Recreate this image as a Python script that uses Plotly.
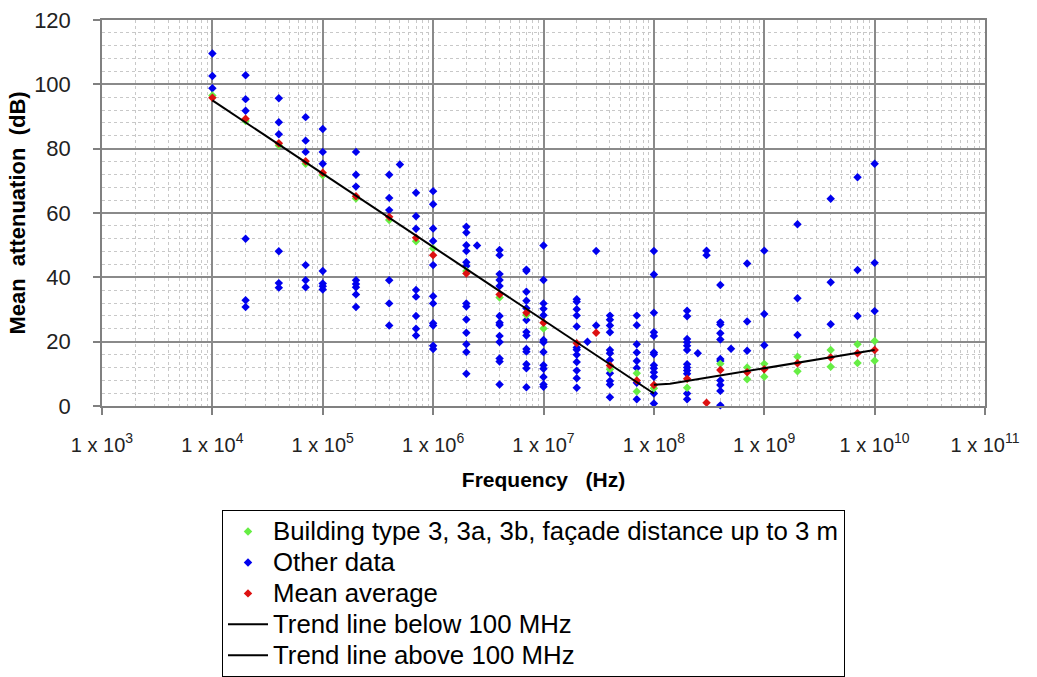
import plotly.graph_objects as go

# ---------------- data ----------------
# "Other data" (blue) : column frequencies and the values measured in each column
other_freq = [1e4, 2e4, 4e4, 7e4, 1e5, 2e5, 4e5, 5e5, 7e5, 1e6, 2e6, 2.5e6, 4e6, 7e6,
              1e7, 2e7, 2.5e7, 3e7, 4e7, 7e7, 1e8, 2e8, 2.5e8, 3e8, 4e8, 5e8, 7e8,
              1e9, 2e9, 4e9, 7e9, 1e10]
other_db = [
    [109.6, 102.6, 98.8],
    [102.8, 95.4, 91.8, 52.0, 32.9, 30.8],
    [95.7, 88.2, 84.5, 48.1, 38.2, 36.8],
    [89.8, 82.5, 79.0, 43.8, 39.1, 36.9],
    [86.1, 79.0, 75.3, 42.0, 38.1, 37.2, 36.2],
    [79.0, 71.9, 68.2, 39.1, 37.9, 36.9, 34.7, 30.8],
    [71.9, 64.7, 60.9, 39.1, 31.9, 25.0],
    [75.1],
    [66.3, 59.0, 55.1, 36.1, 34.0, 28.0, 24.0, 21.9],
    [66.8, 62.7, 55.2, 51.3, 43.8, 34.1, 31.9, 25.7, 25.0, 18.7, 17.7],
    [55.7, 53.9, 50.0, 48.2, 44.7, 43.5, 31.9, 30.9, 26.9, 22.8, 19.2, 16.8, 10.0],
    [49.9],
    [48.5, 46.9, 41.0, 39.2, 37.3, 28.0, 25.9, 25.2, 21.8, 19.9, 14.8, 13.8, 6.7],
    [42.4, 42.0, 35.5, 32.7, 30.4, 26.7, 23.0, 21.9, 17.7, 16.9, 13.0, 11.7, 5.8],
    [49.9, 39.2, 31.9, 30.2, 28.2, 20.5, 19.8, 16.8, 12.7, 11.6, 9.0, 6.7, 6.0],
    [33.2, 32.4, 30.1, 28.1, 24.7, 18.2, 17.5, 15.9, 13.7, 11.0, 8.6, 5.7],
    [20.0],
    [48.2, 25.0],
    [28.1, 26.8, 25.0, 22.9, 17.4, 16.4, 14.3, 10.2, 7.8, 6.7, 2.7],
    [28.1, 25.1, 19.2, 16.6, 14.0, 11.8, 7.2, 2.1],
    [48.2, 40.9, 29.0, 22.9, 21.8, 16.6, 16.1, 12.7, 11.7, 10.5, 9.1, 3.9, 0.8],
    [29.6, 27.9, 20.8, 19.8, 18.7, 17.4, 13.0, 12.0, 11.0, 10.0, 3.9, 2.1],
    [16.4],
    [48.3, 46.9],
    [37.6, 26.0, 25.3, 22.6, 20.7, 14.6, 14.0, 7.9, 6.5, 4.7, 0.2],
    [17.8],
    [44.3, 26.3, 17.2],
    [48.3, 28.6, 18.9],
    [56.5, 33.5, 22.1],
    [64.4, 38.5, 25.4],
    [71.1, 42.3, 28.0],
    [75.3, 44.5, 29.5],
]

# Building type 3, 3a, 3b, facade distance up to 3 m (green)
building_freq = [1e4, 2e4, 4e4, 7e4, 1e5, 2e5, 4e5, 7e5, 1e6, 2e6, 4e6, 7e6, 1e7, 4e7,
                 7e7, 7e7, 1e8, 2e8, 4e8, 7e8, 7e8, 1e9, 1e9, 2e9, 2e9, 4e9, 4e9,
                 7e9, 7e9, 1e10, 1e10]
building_db = [96.5, 88.6, 81.0, 75.3, 71.7, 64.5, 57.8, 51.2, 49.0, 42.0, 33.7, 28.3, 24.1, 11.4,
               10.2, 4.5, 5.5, 5.7, 13.1, 12.0, 8.3, 13.1, 9.1, 15.3, 10.8, 17.4, 12.2,
               19.2, 13.4, 20.2, 14.1]

# Mean average (red)
mean_freq = [1e4, 2e4, 4e4, 7e4, 1e5, 2e5, 4e5, 7e5, 1e6, 2e6, 4e6, 7e6, 1e7, 2e7, 3e7,
             4e7, 7e7, 1e8, 2e8, 3e8, 4e8, 7e8, 1e9, 2e9, 4e9, 7e9, 1e10]
mean_db = [95.8, 89.3, 81.7, 76.1, 72.5, 65.2, 58.8, 52.3, 46.9, 41.2, 34.7, 29.0, 25.9, 19.5, 22.8,
           12.6, 7.9, 6.5, 8.5, 1.0, 11.2, 10.5, 11.4, 13.3, 15.1, 16.4, 17.4]

# Trend lines
trend_below_freq = [1e4, 1e8]
trend_below_db = [95.0, 3.9]
trend_above_freq = [1e8, 1.4e8, 1e10]
trend_above_db = [6.6, 6.9, 17.4]

# Axis tick labels
x_tick_vals = [1e3, 1e4, 1e5, 1e6, 1e7, 1e8, 1e9, 1e10, 1e11]
x_tick_text = ["1 x 10<sup>%d</sup>" % e for e in range(3, 12)]
y_tick_vals = [0, 20, 40, 60, 80, 100, 120]

# ---------------- figure ----------------
FONT = "Liberation Sans, Arial, sans-serif"
blue_x, blue_y = [], []
for f, vals in zip(other_freq, other_db):
    blue_x += [f] * len(vals)
    blue_y += vals


def leg(txt):
    return '<span style="font-size:25.8px">%s</span>' % txt


mk = dict(symbol="diamond", size=6.5)
fig = go.Figure()
fig.add_trace(go.Scatter(x=blue_x, y=blue_y, mode="markers", name=leg("Other data"),
                         marker=dict(color="#0000ee", **mk), legendrank=2, cliponaxis=False))
fig.add_trace(go.Scatter(x=building_freq, y=building_db, mode="markers",
                         name=leg("Building type 3, 3a, 3b, façade distance up to 3 m"),
                         marker=dict(color="#66ee44", **mk), legendrank=1, cliponaxis=False))
fig.add_trace(go.Scatter(x=mean_freq, y=mean_db, mode="markers", name=leg("Mean average"),
                         marker=dict(color="#dd1111", **mk), legendrank=3, cliponaxis=False))
fig.add_trace(go.Scatter(x=trend_below_freq, y=trend_below_db, mode="lines",
                         name=leg("Trend line below 100 MHz"),
                         line=dict(color="black", width=2), legendrank=4))
fig.add_trace(go.Scatter(x=trend_above_freq, y=trend_above_db, mode="lines",
                         name=leg("Trend line above 100 MHz"),
                         line=dict(color="black", width=2), legendrank=5))

W, H = 1037, 677
ml, mr, mt, mb = 102, 52, 20, 271
fig.update_layout(
    width=W, height=H,
    margin=dict(l=ml, r=mr, t=mt, b=mb, pad=0, autoexpand=False),
    paper_bgcolor="white", plot_bgcolor="white",
    font=dict(family=FONT, color="#222222"),
    showlegend=True,
    legend=dict(
        x=(222 - ml) / (W - ml - mr), y=(H - mb - 510) / (H - mt - mb),
        xanchor="left", yanchor="top",
        bgcolor="white", bordercolor="black", borderwidth=1,
        font=dict(family=FONT, size=21.5, color="black"),
        itemwidth=40,
        tracegroupgap=0, traceorder="normal",
    ),
)
fig.update_xaxes(
    type="log", range=[3, 11],
    tickmode="array", tickvals=x_tick_vals, ticktext=x_tick_text,
    tickfont=dict(family=FONT, size=20, color="#222222"),
    ticks="outside", ticklen=7, tickcolor="#808080", tickwidth=1.5,
    ticklabelstandoff=13,
    showline=True, linecolor="#808080", linewidth=1.5, mirror=True,
    showgrid=True, gridcolor="#8a8a8a", gridwidth=1.5,
    minor=dict(dtick="D1", showgrid=True, gridcolor="#c8c8c8", griddash="dot", gridwidth=1),
    zeroline=False,
    title=dict(text="<b>Frequency\u00a0\u00a0\u00a0(Hz)</b>",
               font=dict(family=FONT, size=21, color="black"), standoff=18),
)
fig.update_yaxes(
    range=[0, 120], tickmode="array", tickvals=y_tick_vals,
    tickfont=dict(family=FONT, size=22, color="#222222"),
    ticks="outside", ticklen=7, tickcolor="#808080", tickwidth=1.5,
    ticklabelstandoff=18,
    showline=True, linecolor="#808080", linewidth=1.5, mirror=True,
    showgrid=True, gridcolor="#8a8a8a", gridwidth=1.5,
    minor=dict(dtick=4, showgrid=True, gridcolor="#c8c8c8", griddash="dot", gridwidth=1),
    zeroline=False,
    title=dict(text="<b>Mean\u00a0 attenuation\u00a0 (dB)</b>",
               font=dict(family=FONT, size=22, color="black"), standoff=2),
)

fig.write_html("out.html")
